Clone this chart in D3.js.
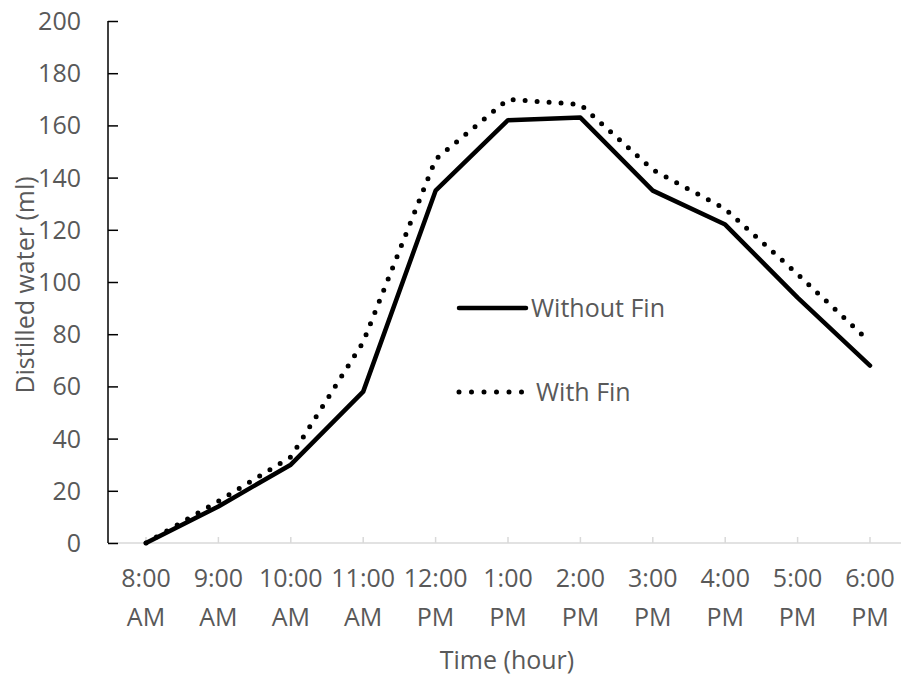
<!DOCTYPE html>
<html>
<head>
<meta charset="utf-8">
<script src="https://cdn.jsdelivr.net/npm/d3@7"></script>
<style>
  body { margin: 0; background: #fff; }
  svg { display: block; font-family: "Open Sans", sans-serif; }
</style>
</head>
<body>
<main></main>
<script>
const times = ["8:00 AM", "9:00 AM", "10:00 AM", "11:00 AM", "12:00 PM", "1:00 PM",
               "2:00 PM", "3:00 PM", "4:00 PM", "5:00 PM", "6:00 PM"];
const withoutFin = [0, 14, 30, 58, 135, 162, 163, 135, 122, 94, 68];
const withFin = [0, 16, 33, 77, 147, 170, 168, 143, 128, 103, 77];
const yTicks = [0, 20, 40, 60, 80, 100, 120, 140, 160, 180, 200];

const width = 901;
const height = 681;
const margin = {top: 21, bottom: 138, left: 108, right: 0};
const textColor = "#595959";
const fontSize = 25;

const svg = d3.select("main")
    .append("svg")
        .attr("width", width)
        .attr("height", height);

const x = d3.scalePoint()
    .domain(times)
    .range([146, 870]);
const y = d3.scaleLinear()
    .domain([0, 200])
    .range([height - margin.bottom, margin.top]);

// x axis: light gray line, small ticks at categories
const axisX = svg.append("g")
    .attr("transform", `translate(0, ${y(0)})`);
axisX.append("line")
    .attr("x1", margin.left).attr("x2", width)
    .attr("stroke", "#d9d9d9").attr("stroke-width", 1.5);
axisX.selectAll(".tk")
    .data(times)
    .join("line")
        .attr("class", "tk")
        .attr("x1", d => x(d)).attr("x2", d => x(d))
        .attr("y1", 0).attr("y2", -6)
        .attr("stroke", "#d9d9d9").attr("stroke-width", 1.5);
const lbl = axisX.selectAll(".lbl")
    .data(times)
    .join("text")
        .attr("class", "lbl")
        .attr("text-anchor", "middle")
        .attr("fill", textColor)
        .attr("font-size", fontSize);
lbl.append("tspan")
    .attr("x", d => x(d)).attr("y", 44)
    .text(d => d.split(" ")[0]);
lbl.append("tspan")
    .attr("x", d => x(d)).attr("y", 83)
    .text(d => d.split(" ")[1]);

svg.append("text")
    .attr("x", 507)
    .attr("y", 669)
    .attr("text-anchor", "middle")
    .attr("fill", textColor)
    .attr("font-size", fontSize)
    .text("Time (hour)");

// y axis: black line with inner ticks
const axisY = svg.append("g")
    .attr("transform", `translate(${margin.left}, 0)`)
    .call(d3.axisRight(y).tickValues(yTicks).tickSize(10).tickFormat(""));
axisY.select(".domain").attr("stroke", "#000").attr("stroke-width", 1.5)
    .attr("d", `M0,${y(200)}V${y(0)}`);
axisY.selectAll(".tick line").attr("stroke", "#000").attr("stroke-width", 1.5);

svg.append("g")
    .selectAll("text")
    .data(yTicks)
    .join("text")
        .attr("x", 81)
        .attr("y", d => y(d))
        .attr("dy", "0.36em")
        .attr("text-anchor", "end")
        .attr("fill", textColor)
        .attr("font-size", fontSize)
        .text(d => d);

svg.append("text")
    .attr("transform", `translate(34, ${(y(0) + y(200)) / 2 + 3}) rotate(-90)`)
    .attr("text-anchor", "middle")
    .attr("fill", textColor)
    .attr("font-size", fontSize)
    .text("Distilled water (ml)");

// lines
const line = d3.line()
    .x((d, i) => x(times[i]))
    .y(d => y(d));

svg.append("path")
    .datum(withFin)
    .attr("d", line)
    .attr("fill", "none")
    .attr("stroke", "#000")
    .attr("stroke-width", 5)
    .attr("stroke-linecap", "round")
    .attr("stroke-dasharray", "0 12");

svg.append("path")
    .datum(withoutFin)
    .attr("d", line)
    .attr("fill", "none")
    .attr("stroke", "#000")
    .attr("stroke-width", 4.5)
    .attr("stroke-linecap", "round")
    .attr("stroke-linejoin", "round");

// legend
const legend = [
    {name: "Without Fin", dash: null, y: 308, tx: 531},
    {name: "With Fin", dash: "0 12.5", y: 392, tx: 536}
];
const lg = svg.append("g")
    .selectAll("g")
    .data(legend)
    .join("g");
lg.append("line")
    .attr("x1", 459).attr("x2", 526)
    .attr("y1", d => d.y).attr("y2", d => d.y)
    .attr("stroke", "#000")
    .attr("stroke-width", d => d.dash ? 5 : 4.5)
    .attr("stroke-linecap", "round")
    .attr("stroke-dasharray", d => d.dash);
lg.append("text")
    .attr("x", d => d.tx)
    .attr("y", d => d.y)
    .attr("dy", "0.36em")
    .attr("fill", textColor)
    .attr("font-size", fontSize)
    .text(d => d.name);
</script>
</body>
</html>
